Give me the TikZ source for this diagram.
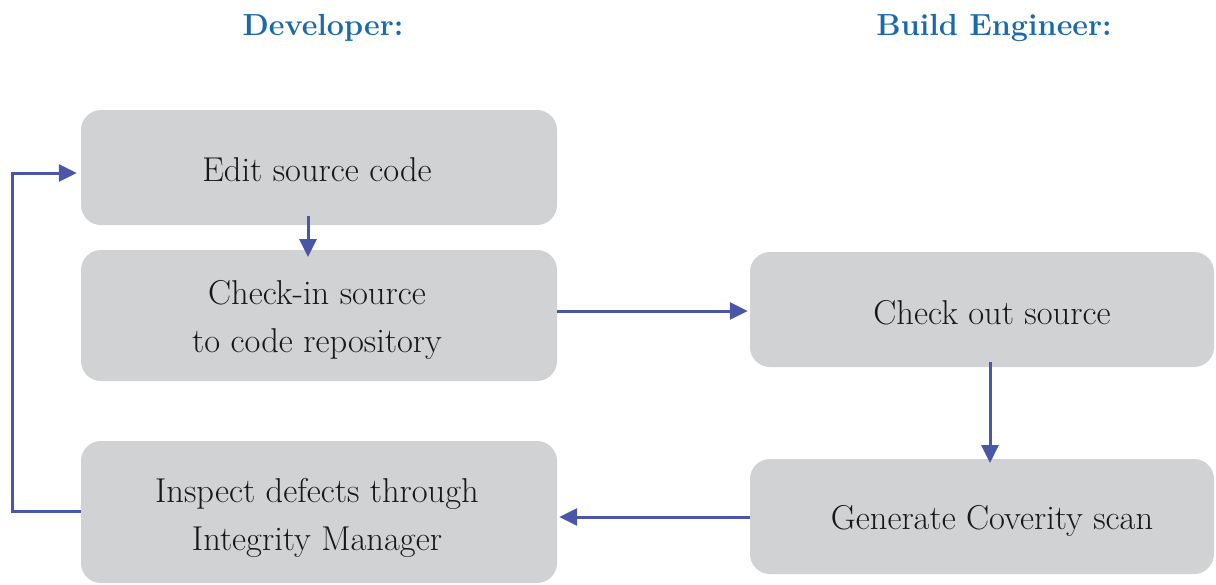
\documentclass[tikz,border=0pt]{standalone}
\usetikzlibrary{arrows.meta}
\definecolor{boxgray}{HTML}{D1D2D4}
\definecolor{arrowblue}{HTML}{4A56A8}
\definecolor{titleblue}{HTML}{1B69AD}
\definecolor{textdark}{HTML}{1A1718}
\tikzset{
  box/.style={fill=boxgray, rounded corners=20pt, inner sep=0pt},
  boxtext/.style={inner sep=0pt, align=center, text=textdark, font=\fontsize{34.5}{48}\selectfont},
  conn/.style={draw=arrowblue, line width=3pt, -{Triangle[length=18pt,width=17pt]}},
  title/.style={text=titleblue, font=\bfseries\fontsize{30.5}{36}\selectfont}
}
\begin{document}
\begin{tikzpicture}[x=1pt,y=-1pt]
\useasboundingbox (0,0) rectangle (1216,584);
\node[title] (dev) at (323,28) {Developer:};
\node[title] (be) at (994,28) {Build Engineer:};
\node[box, minimum width=476pt, minimum height=115pt] (edit) at (319,167.5) {};
\node[box, minimum width=476pt, minimum height=131pt] (checkin) at (319,315.5) {};
\node[box, minimum width=476pt, minimum height=142pt] (inspect) at (319,512) {};
\node[box, minimum width=464pt, minimum height=115pt] (checkout) at (982,309.5) {};
\node[box, minimum width=464pt, minimum height=115pt] (generate) at (982,516.5) {};
\node[boxtext] (editT) at (317,170) {Edit source code};
\node[boxtext] (checkinT) at (317,320) {Check-in source\\to code repository};
\node[boxtext] (inspectT) at (317,518) {Inspect defects through\\Integrity Manager};
\node[boxtext] (checkoutT) at (992,313) {Check out source};
\node[boxtext] (generateT) at (992,521) {Generate Coverity scan};
\coordinate (l1) at (12,511);
\coordinate (l2) at (12,173);
\draw[conn] (inspect.west |- l1) -- (l1) -- (l2) -- ([xshift=-4pt]edit.west |- l2);
\draw[conn] (308,216) -- (308,257);
\draw[conn] (checkin.east |- 0,311) -- ([xshift=-2pt]checkout.west |- 0,311);
\draw[conn] (990,362) -- (990,463);
\draw[conn] (generate.west |- 0,517) -- ([xshift=2pt]inspect.east |- 0,517);
\end{tikzpicture}
\end{document}
